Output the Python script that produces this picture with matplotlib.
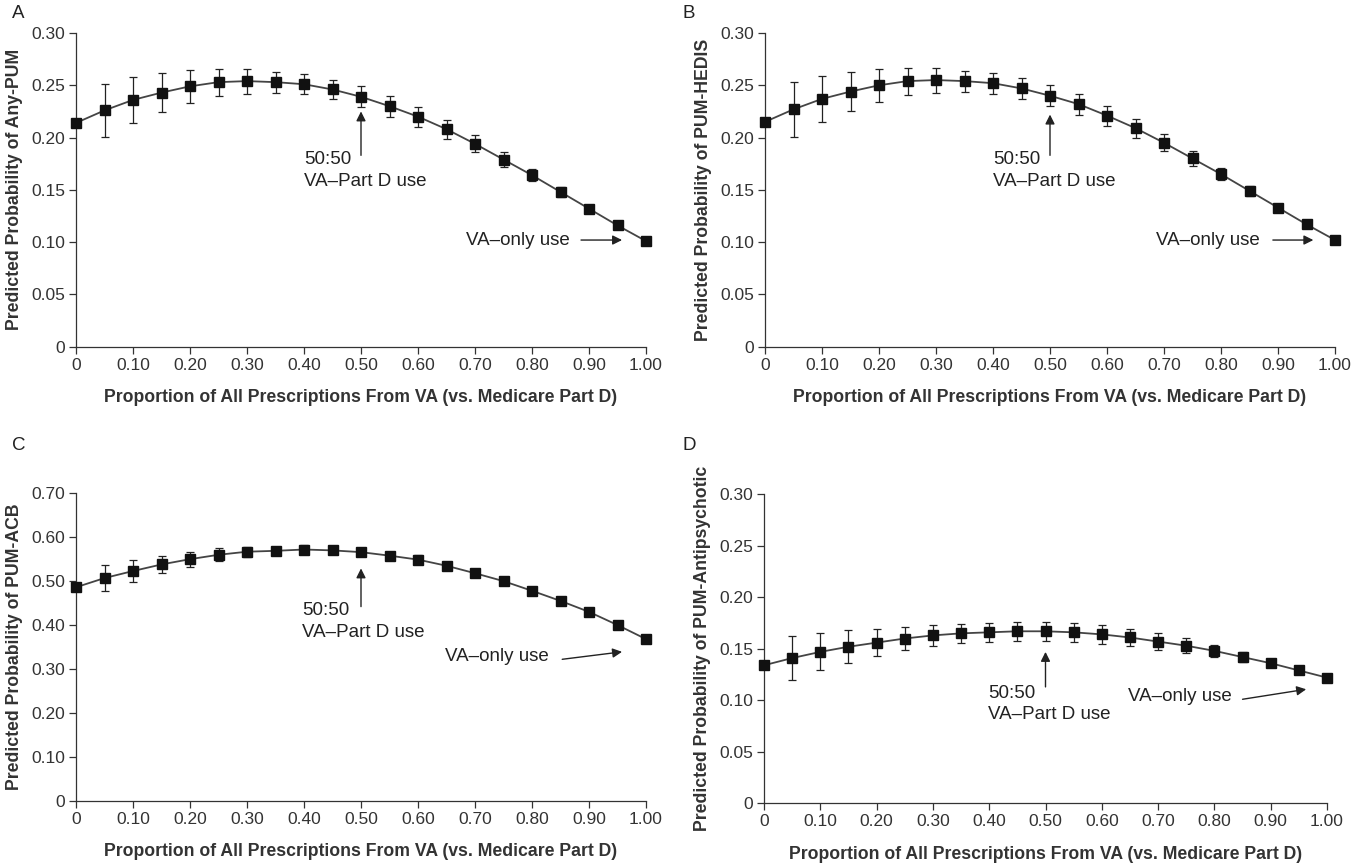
import matplotlib
matplotlib.use("Agg")
import matplotlib.pyplot as plt
from matplotlib.ticker import FuncFormatter

plt.rcParams['font.family'] = ['Liberation Sans', 'DejaVu Sans']

x = [0, 0.05, 0.10, 0.15, 0.20, 0.25, 0.30, 0.35, 0.40, 0.45, 0.50,
     0.55, 0.60, 0.65, 0.70, 0.75, 0.80, 0.85, 0.90, 0.95, 1.00]

any_pum = [0.214, 0.226, 0.236, 0.243, 0.249, 0.253, 0.254, 0.253, 0.251, 0.246, 0.239,
           0.230, 0.220, 0.208, 0.194, 0.179, 0.164, 0.148, 0.132, 0.116, 0.101]
any_pum_err = [0, 0.025, 0.022, 0.019, 0.016, 0.013, 0.012, 0.010, 0.0095, 0.0095, 0.010,
               0.010, 0.0095, 0.009, 0.008, 0.007, 0.006, 0.0045, 0.003, 0.002, 0]

hedis = [0.215, 0.227, 0.237, 0.244, 0.250, 0.254, 0.255, 0.254, 0.252, 0.247, 0.240,
         0.232, 0.221, 0.209, 0.195, 0.180, 0.165, 0.149, 0.133, 0.117, 0.102]
hedis_err = [0, 0.026, 0.022, 0.019, 0.016, 0.013, 0.012, 0.010, 0.010, 0.010, 0.010,
             0.010, 0.0095, 0.009, 0.008, 0.007, 0.006, 0.0045, 0.003, 0.002, 0]

acb = [0.486, 0.507, 0.523, 0.538, 0.550, 0.560, 0.567, 0.569, 0.572, 0.570, 0.566,
       0.558, 0.549, 0.535, 0.518, 0.500, 0.478, 0.455, 0.430, 0.400, 0.368]
acb_err = [0, 0.030, 0.026, 0.020, 0.017, 0.015, 0.011, 0.008, 0.010, 0.009, 0.009,
           0.007, 0.010, 0.008, 0.007, 0.005, 0.005, 0.003, 0.002, 0.002, 0]

antipsy = [0.134, 0.141, 0.147, 0.152, 0.156, 0.160, 0.163, 0.165, 0.166, 0.167, 0.167,
           0.166, 0.164, 0.161, 0.157, 0.153, 0.148, 0.142, 0.136, 0.129, 0.122]
antipsy_err = [0, 0.021, 0.018, 0.016, 0.013, 0.011, 0.010, 0.009, 0.009, 0.009, 0.009,
               0.009, 0.009, 0.008, 0.008, 0.0075, 0.006, 0.005, 0.004, 0.002, 0]

letters = ["A", "B", "C", "D"]
ylabels = ["Predicted Probability of Any-PUM", "Predicted Probability of PUM-HEDIS",
           "Predicted Probability of PUM-ACB", "Predicted Probability of PUM-Antipsychotic"]
xlabel = "Proportion of All Prescriptions From VA (vs. Medicare Part D)"
xticks = [0, 0.10, 0.20, 0.30, 0.40, 0.50, 0.60, 0.70, 0.80, 0.90, 1.00]
yticks_small = [0, 0.05, 0.10, 0.15, 0.20, 0.25, 0.30]
yticks_big = [0, 0.10, 0.20, 0.30, 0.40, 0.50, 0.60, 0.70]

series = [(any_pum, any_pum_err), (hedis, hedis_err), (acb, acb_err), (antipsy, antipsy_err)]
yticks_all = [yticks_small, yticks_small, yticks_big, yticks_small]

# annotation spots: (text x, "50:50" y, second line y, arrow tail y, arrow tip y,
#                    only text x, only text y, arrow start, arrow end)
notes = [
    (0.40, 0.179, 0.158, 0.183, 0.225, 0.685, 0.102, (0.886, 0.102), (0.958, 0.102)),
    (0.40, 0.179, 0.158, 0.183, 0.222, 0.686, 0.102, (0.891, 0.102), (0.962, 0.102)),
    (0.397, 0.434, 0.383, 0.442, 0.529, 0.648, 0.328, (0.853, 0.322), (0.958, 0.339)),
    (0.398, 0.107, 0.086, 0.113, 0.147, 0.647, 0.1036, (0.85, 0.101), (0.963, 0.1107)),
]

W, H = 1365, 865
boxes = [
    (76, 646, 33, 346.7),
    (765, 1335, 33, 346.7),
    (76, 646, 493.3, 800.7),
    (764, 1327, 494.3, 803.3),
]

fig = plt.figure(figsize=(13.65, 8.65), dpi=100)

def fmt(v, pos):
    return "0" if abs(v) < 1e-9 else "%.2f" % v

for i in range(4):
    l, r, t, b = boxes[i]
    ax = fig.add_axes([l / W, 1 - b / H, (r - l) / W, (b - t) / H])
    y, err = series[i]
    ax.plot(x, y, color="#444444", lw=1.3, zorder=2, clip_on=False)
    ax.errorbar(x, y, yerr=err, fmt="none", ecolor="#222222", elinewidth=0.9,
                capsize=3, capthick=0.9, zorder=3)
    ax.plot(x, y, "s", color="#111111", ms=6.5, zorder=4, clip_on=False)

    ax.set_xlim(0, 1.0)
    yt = yticks_all[i]
    ax.set_ylim(0, yt[-1])
    ax.set_xticks(xticks)
    ax.set_yticks(yt)
    ax.xaxis.set_major_formatter(FuncFormatter(fmt))
    ax.yaxis.set_major_formatter(FuncFormatter(fmt))
    for s in ["top", "right"]:
        ax.spines[s].set_visible(False)
    for s in ["left", "bottom"]:
        ax.spines[s].set_linewidth(0.9)
        ax.spines[s].set_color("#333333")
    ax.tick_params(direction="out", length=5, width=0.9, color="#333333",
                   labelsize=12.5, labelcolor="#333333", pad=3)
    ax.set_xlabel(xlabel, fontsize=12.7, fontweight="bold", color="#333333", labelpad=12)
    ax.set_ylabel(ylabels[i], fontsize=12.7, fontweight="bold", color="#333333", labelpad=6)

    tx, y1, y2, tail, tip, ox, oy, a0, a1 = notes[i]
    ax.text(tx, y1, "50:50", fontsize=13.5, va="center", ha="left", color="#222222")
    ax.text(tx, y2, "VA\u2013Part D use", fontsize=13.5, va="center", ha="left", color="#222222")
    ax.annotate("", xy=(0.5, tip), xytext=(0.5, tail),
                arrowprops=dict(arrowstyle="-|>", color="#222222", lw=1.0,
                                mutation_scale=14, shrinkA=0, shrinkB=0))
    ax.text(ox, oy, "VA\u2013only use", fontsize=13.5, va="center", ha="left", color="#222222")
    ax.annotate("", xy=a1, xytext=a0,
                arrowprops=dict(arrowstyle="-|>", color="#222222", lw=1.0,
                                mutation_scale=14, shrinkA=0, shrinkB=0))

    lx = 12 if i % 2 == 0 else 683
    ly = 14 if i < 2 else 446
    fig.text(lx / W, 1 - ly / H, letters[i], fontsize=13.5, ha="left", va="center",
             color="#222222")

fig.savefig("out.png", dpi=100)
